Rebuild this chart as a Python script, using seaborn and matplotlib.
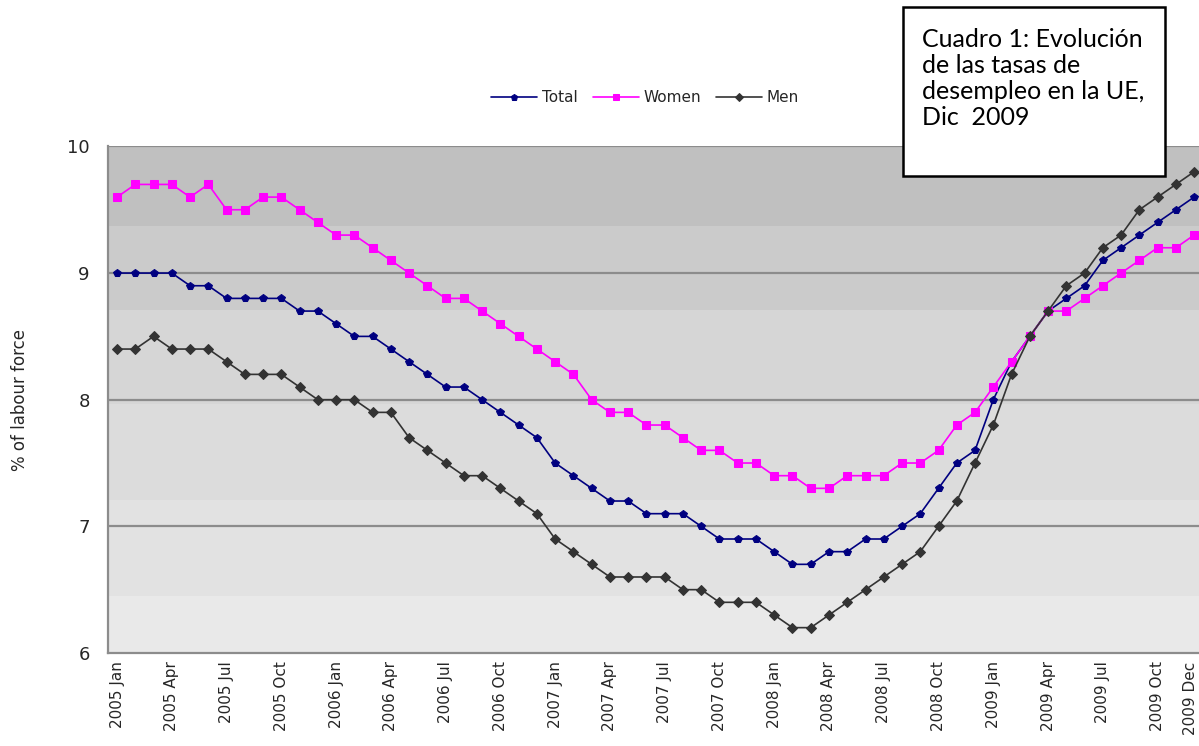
import numpy as np
import pandas as pd
import seaborn as sns
import matplotlib.pyplot as plt
import matplotlib.transforms as mtransforms

sns.set_style("white")
plt.rcParams['font.family'] = ['DejaVu Sans']

# monthly data, 2005 Jan - 2009 Dec
years = [2005, 2006, 2007, 2008, 2009]
months = ['Jan', 'Feb', 'Mar', 'Apr', 'May', 'Jun', 'Jul', 'Aug', 'Sep', 'Oct', 'Nov', 'Dec']

total = [9.0, 9.0, 9.0, 9.0, 8.9, 8.9, 8.8, 8.8, 8.8, 8.8, 8.7, 8.7,
         8.6, 8.5, 8.5, 8.4, 8.3, 8.2, 8.1, 8.1, 8.0, 7.9, 7.8, 7.7,
         7.5, 7.4, 7.3, 7.2, 7.2, 7.1, 7.1, 7.1, 7.0, 6.9, 6.9, 6.9,
         6.8, 6.7, 6.7, 6.8, 6.8, 6.9, 6.9, 7.0, 7.1, 7.3, 7.5, 7.6,
         8.0, 8.3, 8.5, 8.7, 8.8, 8.9, 9.1, 9.2, 9.3, 9.4, 9.5, 9.6]
women = [9.6, 9.7, 9.7, 9.7, 9.6, 9.7, 9.5, 9.5, 9.6, 9.6, 9.5, 9.4,
         9.3, 9.3, 9.2, 9.1, 9.0, 8.9, 8.8, 8.8, 8.7, 8.6, 8.5, 8.4,
         8.3, 8.2, 8.0, 7.9, 7.9, 7.8, 7.8, 7.7, 7.6, 7.6, 7.5, 7.5,
         7.4, 7.4, 7.3, 7.3, 7.4, 7.4, 7.4, 7.5, 7.5, 7.6, 7.8, 7.9,
         8.1, 8.3, 8.5, 8.7, 8.7, 8.8, 8.9, 9.0, 9.1, 9.2, 9.2, 9.3]
men = [8.4, 8.4, 8.5, 8.4, 8.4, 8.4, 8.3, 8.2, 8.2, 8.2, 8.1, 8.0,
       8.0, 8.0, 7.9, 7.9, 7.7, 7.6, 7.5, 7.4, 7.4, 7.3, 7.2, 7.1,
       6.9, 6.8, 6.7, 6.6, 6.6, 6.6, 6.6, 6.5, 6.5, 6.4, 6.4, 6.4,
       6.3, 6.2, 6.2, 6.3, 6.4, 6.5, 6.6, 6.7, 6.8, 7.0, 7.2, 7.5,
       7.8, 8.2, 8.5, 8.7, 8.9, 9.0, 9.2, 9.3, 9.5, 9.6, 9.7, 9.8]

labels = [f"{y} {m}" for y in years for m in months]
idx = np.arange(len(labels))

df = pd.DataFrame({'t': idx, 'Total': total, 'Women': women, 'Men': men})

fig = plt.figure(figsize=(11.99, 7.46), dpi=100)
ax = fig.add_axes([0.090, 0.1247, 0.912, 0.679])

# banded background (Excel-like gradient)
bands = [(6.0, 6.45, '#e9e9e9'), (6.45, 7.21, '#e2e2e2'), (7.21, 7.97, '#dcdcdc'),
         (7.97, 8.71, '#d6d6d6'), (8.71, 9.37, '#cbcbcb'), (9.37, 10.0, '#c0c0c0')]
for lo, hi, c in bands:
    ax.axhspan(lo, hi, color=c, lw=0, zorder=0)
for yv in [7, 8, 9, 10]:
    ax.axhline(yv, color='#8c8c8c', lw=1.6, zorder=1)

styles = [('Total', '#000080', 'p', 6), ('Women', '#ff00ff', 's', 6), ('Men', '#333333', 'D', 5)]
for name, col, mk, ms in styles:
    sns.lineplot(data=df, x='t', y=name, ax=ax, color=col, marker=mk, markersize=ms,
                 markeredgecolor=col, lw=1.2, label=name, zorder=3)

ax.set_xlim(-0.5, 59.4)
ax.set_ylim(6, 10)
ax.set_yticks([6, 7, 8, 9, 10])
ax.set_yticklabels(['6', '7', '8', '9', '10'], fontsize=13)
tick_pos = list(range(0, 60, 3)) + [59]
ax.set_xticks(tick_pos)
ax.set_xticklabels([labels[i] for i in tick_pos], rotation=90, fontsize=11)
ax.set_xticks(idx, minor=True)
ax.tick_params(axis='x', which='both', direction='inout', length=8, color='#8c8c8c', pad=2)
ax.tick_params(axis='y', direction='inout', length=10, color='#8c8c8c', pad=8)
# nudge the last label so it stays inside the picture
last = ax.get_xticklabels()[-1]
last.set_transform(last.get_transform() +
                   mtransforms.ScaledTranslation(-4 / 100, 0, fig.dpi_scale_trans))
ax.set_xlabel('')
ax.set_ylabel('% of labour force', fontsize=12)
ax.yaxis.set_label_coords(-0.072, 0.5)

for s in ['top', 'right']:
    ax.spines[s].set_visible(False)
for s in ['left', 'bottom']:
    ax.spines[s].set_color('#8c8c8c')
    ax.spines[s].set_linewidth(1.6)

ax.legend(loc='center', bbox_to_anchor=(0.538, 0.869), bbox_transform=fig.transFigure,
          ncol=3, frameon=False, fontsize=11, handlelength=3, columnspacing=1.0,
          handletextpad=0.3, markerscale=0.8)

box = plt.Rectangle((0.753, 0.764), 0.219, 0.2266, transform=fig.transFigure,
                    facecolor='white', edgecolor='black', lw=1.8, zorder=5)
fig.add_artist(box)
fig.text(0.769, 0.895,
         'Cuadro 1: Evolución\nde las tasas de\ndesempleo en la UE,\nDic  2009',
         fontsize=18, family=['Lato', 'DejaVu Sans'], va='center', ha='left',
         linespacing=1.15, color='black', zorder=6)

fig.savefig('out.png', dpi=100)
